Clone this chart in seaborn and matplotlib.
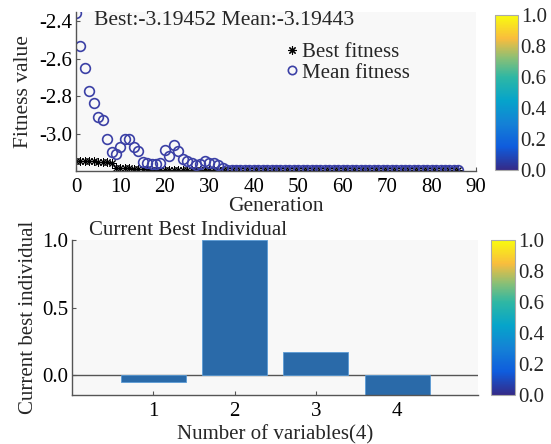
import numpy as np
import pandas as pd
import matplotlib
matplotlib.use('Agg')
import matplotlib.pyplot as plt
import seaborn as sns
from matplotlib.colors import LinearSegmentedColormap, Normalize
from matplotlib.cm import ScalarMappable
from matplotlib.lines import Line2D

# generations 0..86
best_fitness = [-3.145, -3.146, -3.147, -3.148, -3.149, -3.150, -3.151, -3.153, -3.156,
                -3.184, -3.185, -3.186, -3.186, -3.187, -3.188, -3.192, -3.192, -3.193,
                -3.193, -3.193, -3.194, -3.194, -3.194, -3.194, -3.194, -3.194, -3.194,
                -3.194, -3.194, -3.194, -3.194, -3.194, -3.194] + [-3.19452] * 54
mean_fitness = [-2.355, -2.53, -2.65, -2.77, -2.836, -2.91, -2.93, -3.03, -3.10, -3.11,
                -3.07, -3.03, -3.03, -3.07, -3.095, -3.15, -3.16, -3.165, -3.165, -3.155,
                -3.09, -3.12, -3.063, -3.095, -3.136, -3.145, -3.16, -3.17, -3.165, -3.145,
                -3.155, -3.16, -3.17, -3.185] + [-3.19443] * 53
generations = list(range(len(mean_fitness)))

variables = [1, 2, 3, 4]
best_individual = [-0.05, 1.0, 0.173, -0.15]

gen_ticks = [0, 10, 20, 30, 40, 50, 60, 70, 80, 90]
fit_ticks = [-2.4, -2.6, -2.8, -3.0]
cbar_ticks = [0.0, 0.2, 0.4, 0.6, 0.8, 1.0]

parula = LinearSegmentedColormap.from_list('parula', [
    (0.0, '#352a87'), (0.15, '#0f5cdd'), (0.3, '#1481d6'), (0.45, '#06a4ca'),
    (0.6, '#2eb7a4'), (0.72, '#87bf77'), (0.85, '#f9bd3d'), (1.0, '#f9fb0e')])

sns.set_theme(style='white')
plt.rcParams['font.family'] = ['Liberation Serif', 'DejaVu Serif']
plt.rcParams['axes.unicode_minus'] = False
fs = 15
grey = '#555555'
bg = '#f8f8f8'
circ = '#3b40a6'

fig = plt.figure(figsize=(5.51, 4.44), dpi=100)

# ---- top: fitness ----
ax1 = fig.add_axes([0.138, 0.615, 0.726, 0.358])
ax1.set_facecolor(bg)
df = pd.DataFrame({'gen': generations, 'best': best_fitness, 'mean': mean_fitness})
sns.lineplot(data=df, x='gen', y='best', ax=ax1, color='black', linestyle='none',
             marker=(8, 2, 0), markersize=6, markeredgewidth=0.7, markeredgecolor='black')
sns.lineplot(data=df, x='gen', y='mean', ax=ax1, color=circ, linestyle='none',
             marker='o', markersize=7, markerfacecolor='none', markeredgecolor=circ,
             markeredgewidth=1.2)
ax1.set_xlim(0, 90)
ax1.set_ylim(-3.2, -2.35)
ax1.set_xticks(gen_ticks)
ax1.set_yticks(fit_ticks)
ax1.set_yticklabels([f'{t:.1f}' for t in fit_ticks])
ax1.set_xlabel('Generation', fontsize=fs + 0.5, labelpad=0)
ax1.set_ylabel('Fitness value', fontsize=fs + 0.5, labelpad=4)
ax1.text(0.37, 0.945, 'Best:-3.19452 Mean:-3.19443', transform=ax1.transAxes,
         ha='center', va='center', fontsize=15.6)
handles = [Line2D([], [], color='black', linestyle='none', marker=(8, 2, 0), markersize=6,
                  markeredgewidth=0.8),
           Line2D([], [], color=circ, linestyle='none', marker='o', markersize=6,
                  markerfacecolor='none', markeredgewidth=1.2)]
ax1.legend(handles, ['Best fitness', 'Mean fitness'], frameon=False, fontsize=fs,
           loc='upper left', bbox_to_anchor=(0.503, 0.86), handlelength=0.6,
           handletextpad=0.2, labelspacing=0.05, borderaxespad=0)

# ---- bottom: best individual ----
ax2 = fig.add_axes([0.131, 0.110, 0.737, 0.349])
ax2.set_facecolor(bg)
sns.barplot(x=variables, y=best_individual, ax=ax2, native_scale=True, width=0.8,
            color='#2a6aa9', saturation=1, edgecolor='#5b9bd5', linewidth=0.6)
ax2.axhline(0, color=grey, linewidth=1, zorder=0.5)
ax2.set_xlim(0, 5)
ax2.set_ylim(-0.15, 1.0)
ax2.set_xticks(variables)
ax2.set_yticks([0.0, 0.5, 1.0])
ax2.set_yticklabels(['0.0', '0.5', '1.0'])
ax2.set_xlabel('Number of variables(4)', fontsize=fs, labelpad=3)
ax2.set_ylabel('Current best individual', fontsize=fs, labelpad=3)
ax2.text(0.286, 1.0, 'Current Best Individual', transform=ax2.transAxes,
         ha='center', va='bottom', fontsize=fs)

for ax in (ax1, ax2):
    for s in ('top', 'right'):
        ax.spines[s].set_visible(False)
    for s in ('left', 'bottom'):
        ax.spines[s].set_color(grey)
        ax.spines[s].set_linewidth(1)
    ax.tick_params(direction='in', length=3, width=0.8, colors=grey, labelcolor='black',
                   labelsize=fs, pad=3, left=True, bottom=True)
    ax.tick_params(axis='x', pad=5)

# ---- colorbars ----
for rect in ([0.898, 0.617, 0.042, 0.349], [0.891, 0.110, 0.044, 0.349]):
    cax = fig.add_axes(rect)
    cb = fig.colorbar(ScalarMappable(norm=Normalize(0, 1), cmap=parula), cax=cax)
    cb.set_ticks(cbar_ticks)
    cb.set_ticklabels([f'{t:.1f}' for t in cbar_ticks])
    cb.ax.tick_params(length=0, labelsize=fs, pad=2)
    cb.outline.set_edgecolor('#aaaaaa')
    cb.outline.set_linewidth(0.8)

fig.savefig('out.png', dpi=100)
